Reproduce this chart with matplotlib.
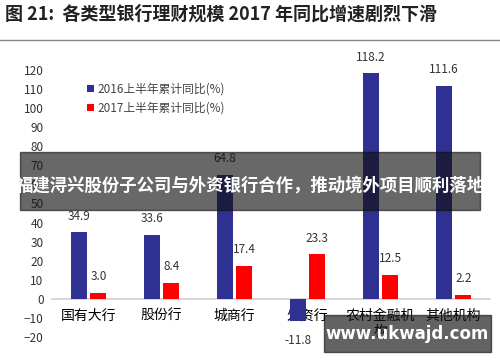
import numpy as np
import matplotlib
matplotlib.use('Agg')
import matplotlib.pyplot as plt
from matplotlib.patches import Rectangle

plt.rcParams['font.family'] = ['Noto Sans CJK SC', 'DejaVu Sans']

# data
categories = ['国有大行', '股份行', '城商行', '外资行', '农村金融机\n构', '其他机构']
h1_2016 = [34.9, 33.6, 64.8, -11.8, 118.2, 111.6]
h1_2017 = [3.0, 8.4, 17.4, 23.3, 12.5, 2.2]
series_names = ['2016上半年累计同比(%)', '2017上半年累计同比(%)']
title = '图 21:  各类型银行理财规模 2017 年同比增速剧烈下滑'
banner = '福建浔兴股份子公司与外资银行合作，推动境外项目顺利落地'
site = 'www.ukwajd.com'

blue = '#2e3192'
red = '#ff0000'

fig = plt.figure(figsize=(5, 3.62), dpi=100)
ax = fig.add_axes([0.104, 0.069, 0.876, 0.738])

x = np.arange(len(categories))
w = 0.22
off = 0.135
b1 = ax.bar(x - off, h1_2016, width=w, color=blue, label=series_names[0], zorder=3)
b2 = ax.bar(x + off, h1_2017, width=w, color=red, label=series_names[1], zorder=3)

for rect, v in zip(b1, h1_2016):
    cx = rect.get_x() + rect.get_width() / 2
    if v >= 0:
        ax.annotate(f'{v:.1f}', (cx, v), xytext=(0, 7), textcoords='offset points',
                    ha='center', va='bottom', fontsize=8.5, color='#333333')
    else:
        ax.annotate(f'{v:.1f}', (cx, v), xytext=(0, -9), textcoords='offset points',
                    ha='center', va='top', fontsize=8.5, color='#333333')
for rect, v in zip(b2, h1_2017):
    cx = rect.get_x() + rect.get_width() / 2
    ax.annotate(f'{v:.1f}', (cx, v), xytext=(0, 7), textcoords='offset points',
                ha='center', va='bottom', fontsize=8.5, color='#333333')

ax.set_xlim(-0.5, len(categories) - 0.5)
ax.set_ylim(-20, 120)
ax.set_yticks(np.arange(-20, 121, 10))
ax.set_xticks(x)
ax.set_xticklabels(categories, fontsize=8.5, color='#444444', linespacing=1.6)
ax.tick_params(axis='x', length=0, pad=7)
ax.tick_params(axis='y', length=0, pad=6, labelsize=8.5, labelcolor='#333333')
for s in ['top', 'right', 'left']:
    ax.spines[s].set_visible(False)
ax.spines['bottom'].set_position(('data', 0))
ax.spines['bottom'].set_color('#d0d0d0')
ax.spines['bottom'].set_linewidth(1.2)

ax.legend(loc='upper left', bbox_to_anchor=(76 / 500, 1 - 72 / 362),
          bbox_transform=fig.transFigure, frameon=False, fontsize=8.5,
          handlelength=0.6, handleheight=0.6, handletextpad=0.3,
          labelspacing=0.5, labelcolor='#444444')

# title and rule
fig.text(0.01, 1 - 14 / 362, title, fontsize=13, fontweight='bold',
         color='#222222', va='center', ha='left')
fig.add_artist(plt.Line2D([0, 1], [1 - 40 / 362] * 2, color='#888888', lw=1,
                          transform=fig.transFigure))

# overlay banner
fig.patches.append(Rectangle((20 / 500, 1 - 210 / 362), 460 / 500, 58 / 362,
                             transform=fig.transFigure, color='#101010',
                             alpha=0.63, zorder=5))
fig.text(0.5, 1 - 186 / 362, banner, fontsize=12.5, fontweight='bold',
         color='white', ha='center', va='center', zorder=6)

# watermark box
fig.patches.append(Rectangle((324 / 500, 1 - 352 / 362), 167 / 500, 37 / 362,
                             transform=fig.transFigure, color='#101010',
                             alpha=0.65, zorder=5))
fig.text(407 / 500, 1 - 334 / 362, site, fontsize=12, fontweight='bold',
         color='white', ha='center', va='center', zorder=6,
         family='DejaVu Sans')

fig.savefig('out.png', dpi=100)
